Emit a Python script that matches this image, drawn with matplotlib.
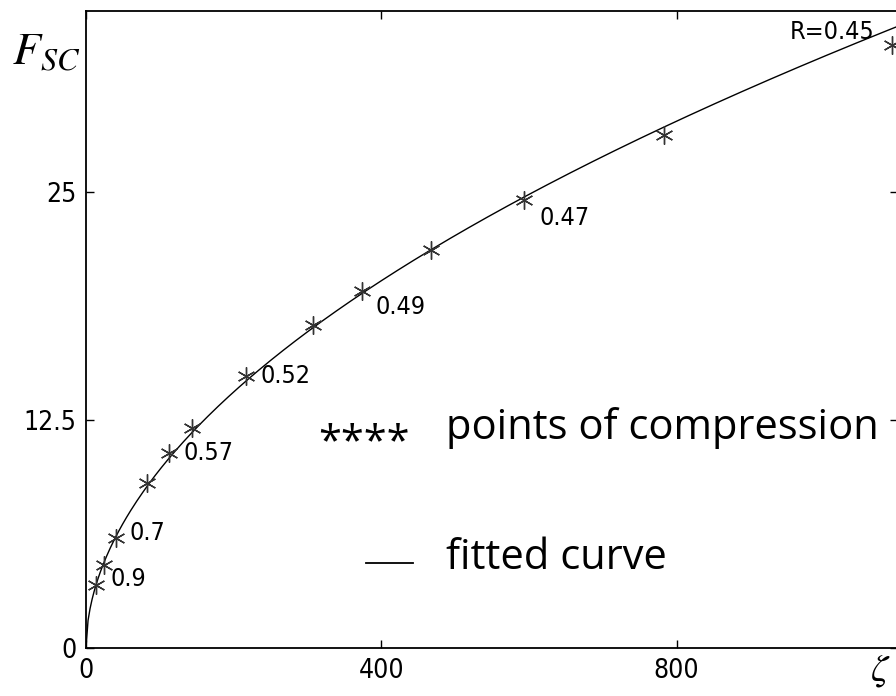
import matplotlib.pyplot as plt
import numpy as np

# points of compression
zeta = np.array([14, 24, 40, 83, 113, 143, 217, 307, 374, 468, 594, 783, 1092])
fsc = np.array([3.45, 4.55, 6.03, 9.06, 10.67, 12.04, 14.9, 17.67, 19.57, 21.78, 24.52, 28.1, 33.06])

# R labels next to some points
r_idx = [0, 2, 4, 6, 8, 10]
r_txt = ['0.9', '0.7', '0.57', '0.52', '0.49', '0.47']

xticks = [0, 400, 800]
yticks = [0, 12.5, 25]
ytick_labels = ['0', '12.5', '25']

plt.rcParams['mathtext.fontset'] = 'stix'
narrow = dict(family='DejaVu Sans', fontstretch='condensed')

fig = plt.figure(figsize=(8.96, 6.96), dpi=100)
ax = fig.add_axes([86 / 896, 48 / 696, 812 / 896, 637 / 696])

# power-law fit in log space
b, loga = np.polyfit(np.log(zeta), np.log(fsc), 1)
xf = np.linspace(0, 1100, 400)
yf = np.exp(loga) * xf ** b
ax.plot(xf, yf, color='black', lw=1.0)

ax.plot(zeta, fsc, linestyle='none', marker=(6, 2, 0), markersize=13,
        markeredgewidth=1.0, color='#333333')

offs = [(10, 4), (10, 3.5), (10.5, 0), (10.5, 0), (10, -11.5), (10.5, -12.5)]
for i, t, o in zip(r_idx, r_txt, offs):
    ax.annotate(t, (zeta[i], fsc[i]), xytext=o, textcoords='offset points',
                ha='left', va='center', fontsize=18, **narrow)
ax.annotate('R=0.45', (zeta[-1], fsc[-1]), xytext=(-13, 9), textcoords='offset points',
            ha='right', va='center', fontsize=18, **narrow)

ax.set_xlim(0, 1100)
ax.set_ylim(0, 34.9)
ax.set_xticks(xticks)
ax.set_xticklabels([str(v) for v in xticks], fontsize=19, **narrow)
ax.set_yticks(yticks)
ax.set_yticklabels(ytick_labels, fontsize=19, **narrow)
ax.tick_params(direction='in', length=6, width=1, top=True, right=True, pad=7)
for s in ax.spines.values():
    s.set_linewidth(1.3)

# legend drawn as text
ax.text(0.286, 0.322, '****', transform=ax.transAxes, fontsize=30, family='Open Sans',
        ha='left', va='center')
ax.text(0.443, 0.345, 'points of compression', transform=ax.transAxes, fontsize=30,
        family='Open Sans', ha='left', va='center')
ax.plot([0.345, 0.403], [0.134, 0.134], transform=ax.transAxes, color='black', lw=1.3)
ax.text(0.443, 0.142, 'fitted curve', transform=ax.transAxes, fontsize=30,
        family='Open Sans', ha='left', va='center')

fig.text(12 / 896, 1 - 52 / 696, r'$F_{SC}$', fontsize=33, ha='left', va='center')
fig.text(880 / 896, 1 - 670 / 696, r'$\zeta$', fontsize=28, ha='center', va='center')

fig.savefig('out.png', dpi=100)
